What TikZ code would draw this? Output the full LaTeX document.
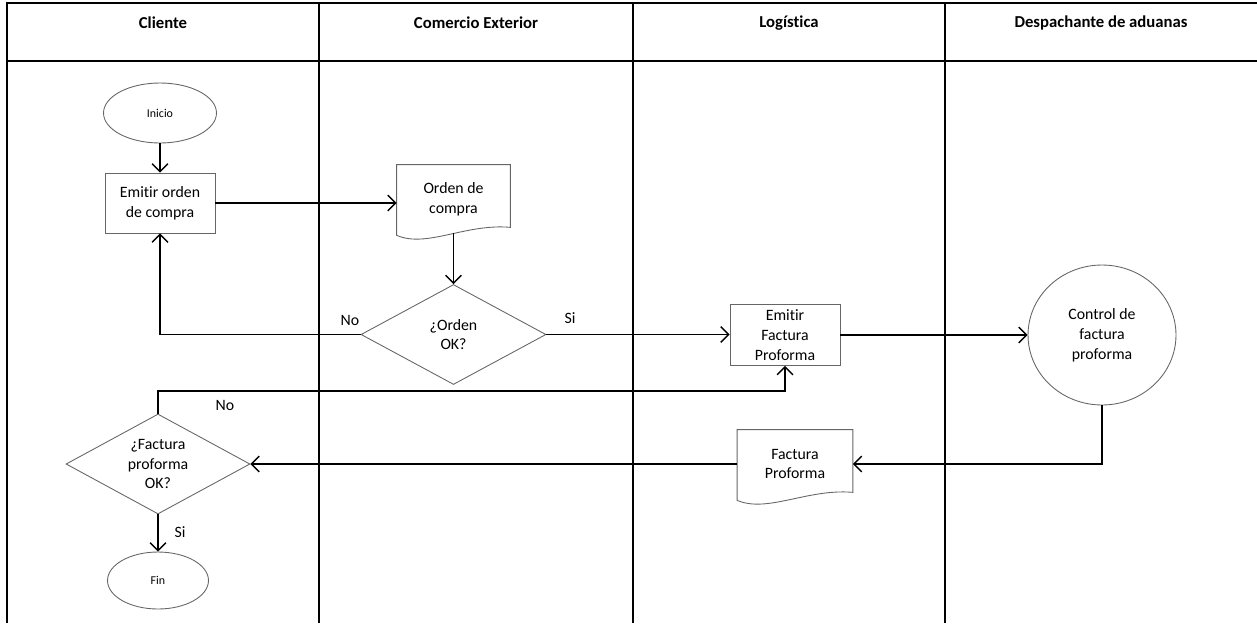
\documentclass[tikz,border=0pt]{standalone}
\usepackage{fontspec}
\setmainfont{Carlito}[Ligatures=NoCommon]
\usetikzlibrary{shapes.geometric,arrows.meta}

% document outline with a wavy bottom edge
\newcommand{\docshape}[1]{%
	\draw[docline] (#1.north west) -- (#1.north east) -- ([yshift=0.12cm]#1.south east)
		.. controls ([xshift=-0.9cm,yshift=0.2cm]#1.south east) and ([xshift=0.6cm,yshift=-0.3cm]#1.south west) .. ([yshift=-0.04cm]#1.south west) -- cycle;}

\begin{document}
\begin{tikzpicture}[x=0.02cm,y=-0.02cm,
		lane/.style={line width=1.1pt},
		flow/.style={line width=0.8pt,-{Straight Barb[length=4.5pt,width=9pt]}},
		docline/.style={draw=black!60,line width=0.5pt},
		txt/.style={align=center,font=\fontsize{9}{11.3}\selectfont},
		box/.style={txt,rectangle,draw=black!60,line width=0.5pt,inner sep=1pt,minimum width=2.2cm,minimum height=1.2cm},
		doc/.style={txt,rectangle,inner sep=1pt,minimum width=2.26cm,minimum height=1.36cm},
		term/.style={ellipse,draw=black!60,line width=0.5pt,font=\fontsize{6.8}{8}\selectfont},
		decision/.style={txt,diamond,draw=black!60,line width=0.5pt,inner sep=0pt,aspect=1.85,minimum width=3.7cm,minimum height=2cm},
		head/.style={font=\bfseries\fontsize{9.5}{11}\selectfont},
		lbl/.style={font=\fontsize{9}{11}\selectfont}]
		\useasboundingbox (0,0) rectangle (1257,623);
		% lanes
		\draw[lane] (7,623) -- (7,3) -- (1257,3);
		\draw[lane] (7,61) -- (1257,61);
		\foreach \x in {319,633,945}
			\draw[lane] (\x,3) -- (\x,623);
		\node[head] (hcliente) at (163,23) {Cliente};
		\node[head] (hcomercio) at (476,23) {Comercio Exterior};
		\node[head] (hlogistica) at (789,23) {Logística};
		\node[head] (hdespacho) at (1101,23) {Despachante de aduanas};
		% nodes
		\node[term,minimum width=2.26cm,minimum height=1.2cm] (inicio) at (160,113) {Inicio};
		\node[box] (emitir) at (160,203) {Emitir orden\\de compra};
		\node[doc] (orden) at (453.5,199) {Orden de\\compra};
		\docshape{orden}
		\node[decision] (ordenok) at (453.5,334.5) {¿Orden\\OK?};
		\node[box,minimum height=1.22cm] (factura) at (785,335) {Emitir\\Factura\\Proforma};
		\node[txt,ellipse,draw=black!60,line width=0.5pt,minimum width=2.96cm,minimum height=2.8cm] (control) at (1102,335) {Control de\\factura\\proforma};
		\node[doc,minimum width=2.3cm] (factdoc) at (795,464) {Factura\\Proforma};
		\docshape{factdoc}
		\node[decision,minimum width=3.68cm] (factok) at (158,464) {¿Factura\\proforma\\OK?};
		\node[term,minimum width=2.02cm,minimum height=1.14cm] (fin) at (158,580.5) {Fin};
		% connectors
		\draw[flow] (inicio) -- (emitir);
		\draw[flow] (emitir.east) -- (emitir.east -| orden.west);
		\draw[flow] (orden.south) -- (ordenok.north);
		\draw[flow] (ordenok.west) -| (emitir.south);
		\draw[flow] (ordenok.east) -- (ordenok.east -| factura.west);
		\draw[flow] (factura.east) -- (control.west);
		\draw[flow] (control.south) |- (factdoc.east);
		\draw[flow] (factdoc.west) -- (factok.east);
		\draw[flow] (factok.north) |- ([yshift=-0.5cm]factura.south) -- (factura.south);
		\draw[flow] (factok.south) -- (fin.north);
		% labels
		\node[lbl] (no1) at (350,320) {No};
		\node[lbl] (si1) at (570,318) {Si};
		\node[lbl] (no2) at (225,405) {No};
		\node[lbl] (si2) at (180,532) {Si};
	\end{tikzpicture}
\end{document}
